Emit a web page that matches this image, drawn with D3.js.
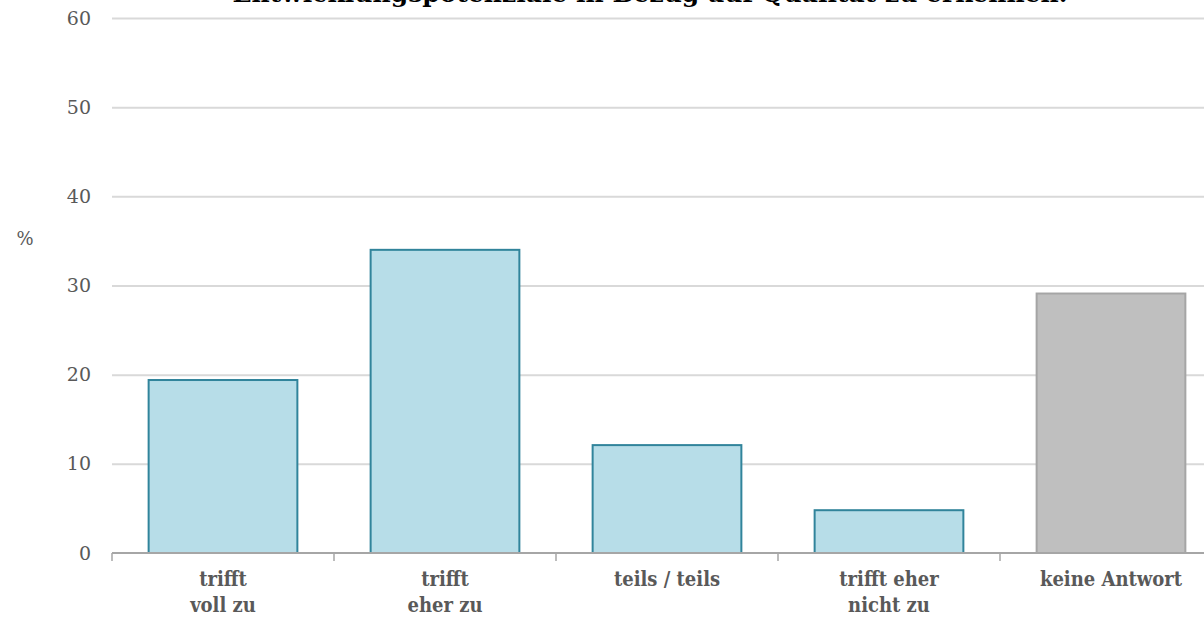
<!DOCTYPE html>
<html>
<head>
<meta charset="utf-8">
<script src="https://cdn.jsdelivr.net/npm/d3@7"></script>
<style>
  html, body { margin: 0; padding: 0; background: #fff; }
  svg { display: block; }
  text { font-family: "DejaVu Serif", "Liberation Serif", serif; }
</style>
</head>
<body>
<svg id="chart" width="1204" height="617"></svg>
<script>
// Survey answers and their shares (%)
const categories = [
  ["trifft", "voll zu"],
  ["trifft", "eher zu"],
  ["teils / teils"],
  ["trifft eher", "nicht zu"],
  ["keine Antwort"]
];
const values = [19.4, 34.0, 12.1, 4.8, 29.1];
const noAnswer = [false, false, false, false, true];
const yTicks = [0, 10, 20, 30, 40, 50, 60];
const title = "Entwicklungspotenziale in Bezug auf Qualität zu erkennen.";
const yUnit = "%";

const svg = d3.select("#chart");
const margin = { left: 112, top: 18, bottom: 64 };
const height = 617;
const plotRight = 1222;

const x = d3.scaleBand()
  .domain(categories.map((d, i) => i))
  .range([margin.left, plotRight])
  .paddingInner(0.33)
  .paddingOuter(0.165);

const y = d3.scaleLinear()
  .domain([0, 60])
  .range([height - margin.bottom, margin.top]);

// horizontal gridlines with value labels
const yAxis = svg.append("g")
  .attr("transform", `translate(${margin.left},0)`)
  .call(d3.axisLeft(y).tickValues(yTicks).tickSize(-(plotRight - margin.left)).tickPadding(21));
yAxis.select(".domain").remove();
yAxis.selectAll(".tick line").attr("stroke", "#d9d9d9").attr("stroke-width", 2)
  .filter(d => d === 0).remove();
yAxis.selectAll(".tick text")
  .attr("fill", "#595959")
  .attr("font-size", 19)
  .style("font-family", "'DejaVu Serif', serif");

// bars
svg.append("g").selectAll("rect")
  .data(values)
  .join("rect")
  .attr("x", (d, i) => x(i))
  .attr("y", d => y(d))
  .attr("width", x.bandwidth())
  .attr("height", d => y(0) - y(d))
  .attr("fill", (d, i) => noAnswer[i] ? "#bfbfbf" : "#b7dde8")
  .attr("stroke", (d, i) => noAnswer[i] ? "#a5a5a5" : "#31849b")
  .attr("stroke-width", 2);

// category axis
const step = x.step();
const boundaries = d3.range(categories.length + 1).map(i => margin.left + i * step);
const xAxis = svg.append("g");
xAxis.append("line")
  .attr("x1", margin.left).attr("x2", plotRight)
  .attr("y1", y(0)).attr("y2", y(0))
  .attr("stroke", "#a6a6a6").attr("stroke-width", 2);
xAxis.selectAll("line.tick")
  .data(boundaries)
  .join("line")
  .attr("class", "tick")
  .attr("x1", d => d).attr("x2", d => d)
  .attr("y1", y(0)).attr("y2", y(0) + 8)
  .attr("stroke", "#a6a6a6").attr("stroke-width", 1.5);

const labels = xAxis.selectAll("text")
  .data(categories)
  .join("text")
  .attr("x", (d, i) => x(i) + x.bandwidth() / 2)
  .attr("y", y(0) + 33)
  .attr("text-anchor", "middle")
  .attr("fill", "#595959")
  .attr("font-size", 20)
  .attr("font-weight", "bold")
  .style("font-stretch", "condensed");
labels.selectAll("tspan")
  .data(d => d)
  .join("tspan")
  .attr("x", function () { return this.parentNode.getAttribute("x"); })
  .attr("dy", (d, i) => i === 0 ? 0 : 26)
  .text(d => d);

// unit label
svg.append("text")
  .attr("x", 25).attr("y", 245)
  .attr("text-anchor", "middle")
  .attr("fill", "#595959")
  .attr("font-size", 18)
  .text(yUnit);

// title (partly above the top edge)
svg.append("text")
  .attr("x", 650).attr("y", 1.5)
  .attr("text-anchor", "middle")
  .attr("fill", "#000")
  .attr("font-size", 25)
  .attr("font-weight", "bold")
  .text(title);
</script>
</body>
</html>
